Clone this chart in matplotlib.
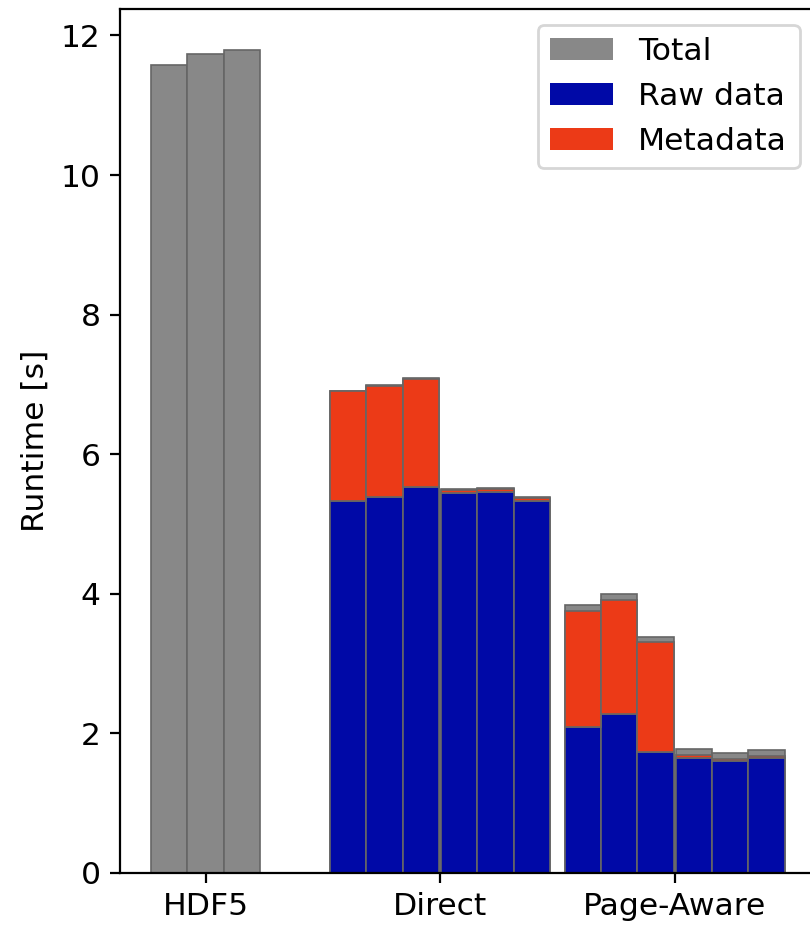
import matplotlib.pyplot as plt
import numpy as np

plt.rcParams['font.size'] = 11.3

# data (seconds)
groups = ['HDF5', 'Direct', 'Page-Aware']

hdf5_total = [11.58, 11.74, 11.79]

direct_raw = [5.33, 5.39, 5.53, 5.44, 5.46, 5.33]
direct_meta = [1.57, 1.59, 1.55, 0.04, 0.04, 0.04]
direct_total = [6.91, 6.99, 7.09, 5.50, 5.52, 5.38]

page_raw = [2.09, 2.28, 1.73, 1.65, 1.60, 1.64]
page_meta = [1.66, 1.63, 1.57, 0.04, 0.03, 0.03]
page_total = [3.835, 4.00, 3.38, 1.78, 1.72, 1.76]

c_total = '#888888'
c_raw = '#0009a7'
c_meta = '#ec3a17'
c_edge = '#666666'

w = 0.155
gap = 0.008

fig = plt.figure(figsize=(4.05, 4.625), dpi=200)
ax = fig.add_axes([0.1481, 0.0565, 0.8584, 0.9338])

# HDF5: only total
x_h = 0 + np.array([-1, 0, 1]) * w
ax.bar(x_h, hdf5_total, width=w, color=c_total, edgecolor=c_edge, linewidth=0.6, label='Total')

# 6 bars per group, two sub-groups of 3 with a tiny gap
offs = np.array([-2.5, -1.5, -0.5, 0.5, 1.5, 2.5]) * w
offs = offs + np.array([-1, -1, -1, 1, 1, 1]) * gap / 2

for i, (raw, meta, total) in enumerate([(direct_raw, direct_meta, direct_total),
                                        (page_raw, page_meta, page_total)]):
    x = (i + 1) + offs
    raw = np.array(raw)
    meta = np.array(meta)
    ax.bar(x, total, width=w, color=c_total, edgecolor=c_edge, linewidth=0.6)
    ax.bar(x, raw, width=w, color=c_raw, edgecolor=c_edge, linewidth=0.6,
           label='Raw data' if i == 0 else None)
    ax.bar(x, meta, bottom=raw, width=w, color=c_meta, edgecolor=c_edge, linewidth=0.6,
           label='Metadata' if i == 0 else None)

ax.set_xticks(range(len(groups)))
ax.set_xticklabels(groups)
ax.set_xlim(-0.365, 2.6)
ax.set_ylim(0, 12.38)
ax.set_yticks([0, 2, 4, 6, 8, 10, 12])
ax.set_ylabel('Runtime [s]')

leg = ax.legend(loc='upper right')
for h in leg.legend_handles:
    h.set_edgecolor('none')

fig.savefig('out.png', dpi=200)
